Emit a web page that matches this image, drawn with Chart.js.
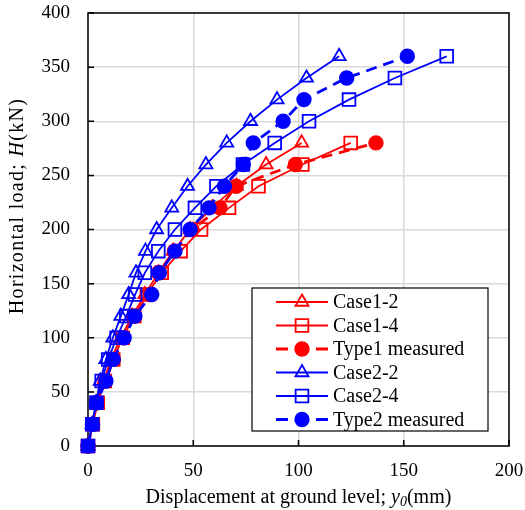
<!DOCTYPE html>
<html>
<head>
<meta charset="utf-8">
<script src="https://cdn.jsdelivr.net/npm/chart.js@4/dist/chart.umd.min.js"></script>
<style>
  html, body { margin: 0; padding: 0; background: #fff; }
</style>
</head>
<body>
<canvas id="loadChart" width="525" height="510"></canvas>
<script>
// load steps (kN)
const loadsType1 = [0, 20, 40, 60, 80, 100, 120, 140, 160, 180, 200, 220, 240, 260, 280];
const loadsType2 = [0, 20, 40, 60, 80, 100, 120, 140, 160, 180, 200, 220, 240, 260, 280, 300, 320, 340, 360];

// displacement at ground level (mm)
const case12Disp = [0, 2.1, 4.1, 7.5, 11, 15.5, 21, 27, 33.5, 40.5, 48.5, 59, 70.5, 84.6, 101.5];
const case14Disp = [0, 2.3, 4.6, 8, 12, 16.5, 22, 28, 35, 44, 53.7, 67, 81, 101.8, 124.8];
const type1Disp  = [0, 2.2, 4.2, 8.3, 12, 16.8, 22, 29.5, 33.5, 41, 49.5, 62.7, 70.4, 98.5, 136.8];
const case22Disp = [0, 2, 3.8, 5.8, 8.5, 11.8, 15.6, 19.3, 22.8, 27.3, 32.6, 39.8, 47.3, 56, 65.9, 77.2, 89.8, 103.8, 119.3];
const case24Disp = [0, 2, 4, 6.5, 9.6, 13.6, 18.2, 22.4, 27, 33.4, 41.3, 50.8, 61, 73.6, 88.7, 105, 124, 145.8, 170.4];
const type2Disp  = [0, 2.1, 4, 8.5, 12, 17.2, 22.3, 30.3, 33.9, 41.3, 48.5, 57.5, 64.8, 73.8, 78.5, 92.7, 102.6, 122.9, 151.7];

const xTickValues = [0, 50, 100, 150, 200];
const yTickValues = [0, 50, 100, 150, 200, 250, 300, 350, 400];

const RED = '#ff0000';
const BLUE = '#0000ff';
const FONT = "'Liberation Serif', 'Times New Roman', serif";

const toPoints = (xs, ys) => xs.map((x, i) => ({ x, y: ys[i] }));

function series(label, xs, ys, color, marker, measured) {
  return {
    label,
    data: toPoints(xs, ys),
    showLine: true,
    borderColor: color,
    borderWidth: measured ? 2.8 : 1.8,
    borderDash: measured ? [11, 7] : [],
    pointStyle: marker,
    pointRadius: marker === 'rect' ? 9 : (marker === 'triangle' ? 7.5 : 6.8),
    pointBorderColor: color,
    pointBorderWidth: 1.8,
    pointBackgroundColor: measured ? color : 'rgba(0,0,0,0)',
    tension: 0,
    clip: false,
    order: color === RED ? 2 : 1
  };
}

const datasets = [
  series('Case1-2', case12Disp, loadsType1, RED, 'triangle', false),
  series('Case1-4', case14Disp, loadsType1, RED, 'rect', false),
  series('Type1 measured', type1Disp, loadsType1, RED, 'circle', true),
  series('Case2-2', case22Disp, loadsType2, BLUE, 'triangle', false),
  series('Case2-4', case24Disp, loadsType2, BLUE, 'rect', false),
  series('Type2 measured', type2Disp, loadsType2, BLUE, 'circle', true)
];

// black frame + short inward tick marks
const frameAndTicks = {
  id: 'frameAndTicks',
  beforeDatasetsDraw(chart) {
    const { ctx, chartArea: a, scales: { x, y } } = chart;
    ctx.save();
    ctx.strokeStyle = '#000';
    ctx.lineWidth = 1.5;
    ctx.strokeRect(a.left, a.top, a.right - a.left, a.bottom - a.top);
    ctx.beginPath();
    xTickValues.forEach(v => {
      const px = x.getPixelForValue(v);
      ctx.moveTo(px, a.bottom);
      ctx.lineTo(px, a.bottom - 6);
    });
    yTickValues.forEach(v => {
      const py = y.getPixelForValue(v);
      ctx.moveTo(a.left, py);
      ctx.lineTo(a.left + 6, py);
    });
    ctx.stroke();
    ctx.restore();
  }
};

// draw a run of text pieces (some italic / subscript) starting at x
function drawRuns(ctx, runs, x, y, size) {
  runs.forEach(r => {
    ctx.font = (r.italic ? 'italic ' : '') + (r.size || size) + 'px ' + FONT;
    ctx.fillText(r.text, x, y + (r.dy || 0));
    x += ctx.measureText(r.text).width;
  });
}
function runsWidth(ctx, runs, size) {
  return runs.reduce((w, r) => {
    ctx.font = (r.italic ? 'italic ' : '') + (r.size || size) + 'px ' + FONT;
    return w + ctx.measureText(r.text).width;
  }, 0);
}

const axisTitles = {
  id: 'axisTitles',
  afterDraw(chart) {
    const ctx = chart.ctx;
    const a = chart.chartArea;
    ctx.save();
    ctx.fillStyle = '#000';
    ctx.textBaseline = 'middle';
    ctx.textAlign = 'left';

    const xRuns = [
      { text: 'Displacement at ground level; ' },
      { text: 'y', italic: true },
      { text: '0', italic: true, size: 14, dy: 4 },
      { text: '(mm)' }
    ];
    const xw = runsWidth(ctx, xRuns, 20);
    drawRuns(ctx, xRuns, (a.left + a.right) / 2 - xw / 2, 498, 20);

    const yRuns = [
      { text: 'Horizontal load; ' },
      { text: 'H', italic: true },
      { text: '(kN)' }
    ];
    if ('letterSpacing' in ctx) ctx.letterSpacing = '1.3px';
    const yw = runsWidth(ctx, yRuns, 20);
    ctx.translate(18, 206);
    ctx.rotate(-Math.PI / 2);
    drawRuns(ctx, yRuns, -yw / 2, 0, 20);
    ctx.restore();
  }
};

// boxed legend inside the plot, line + marker samples
const legendBox = {
  id: 'legendBox',
  afterDatasetsDraw(chart) {
    const ctx = chart.ctx;
    const box = { left: 252, top: 288, width: 236, height: 143 };
    ctx.save();
    ctx.fillStyle = '#fff';
    ctx.fillRect(box.left, box.top, box.width, box.height);
    ctx.strokeStyle = '#000';
    ctx.lineWidth = 1.2;
    ctx.strokeRect(box.left, box.top, box.width, box.height);

    chart.data.datasets.forEach((ds, i) => {
      const cy = box.top + 14 + i * 23.5;
      const x0 = box.left + 24, x1 = box.left + 76, mx = (x0 + x1) / 2;
      ctx.strokeStyle = ds.borderColor;
      ctx.lineWidth = ds.borderWidth;
      ctx.beginPath();
      if (ds.borderDash.length) {
        ctx.moveTo(x0, cy); ctx.lineTo(x0 + 12, cy);
        ctx.moveTo(x1 - 12, cy); ctx.lineTo(x1, cy);
      } else {
        ctx.moveTo(x0, cy); ctx.lineTo(x1, cy);
      }
      ctx.stroke();

      ctx.fillStyle = ds.pointBackgroundColor;
      ctx.strokeStyle = ds.pointBorderColor;
      ctx.lineWidth = ds.pointBorderWidth;
      Chart.helpers.drawPoint(ctx, {
        pointStyle: ds.pointStyle,
        radius: ds.pointRadius,
        rotation: 0,
        borderWidth: ds.pointBorderWidth
      }, mx, cy);

      ctx.fillStyle = '#000';
      ctx.font = '20px ' + FONT;
      ctx.textBaseline = 'middle';
      ctx.textAlign = 'left';
      ctx.fillText(ds.label, x1 + 5, cy + 1);
    });
    ctx.restore();
  }
};

const gridColor = '#d9d9d9';

new Chart(document.getElementById('loadChart').getContext('2d'), {
  type: 'scatter',
  data: { datasets },
  options: {
    responsive: false,
    animation: false,
    events: [],
    layout: { padding: { top: 13, right: 16, left: 0, bottom: 0 } },
    plugins: {
      legend: { display: false },
      tooltip: { enabled: false }
    },
    scales: {
      x: {
        type: 'linear',
        min: 0,
        max: 200,
        afterFit: s => { s.height = 64; s.paddingLeft = 0; s.paddingRight = 0; },
        afterBuildTicks: s => { s.ticks = xTickValues.map(v => ({ value: v })); },
        grid: { color: gridColor, lineWidth: 1.5, drawTicks: false },
        border: { display: false },
        ticks: { color: '#000', padding: 14, font: { family: FONT, size: 19 } }
      },
      y: {
        type: 'linear',
        min: 0,
        max: 400,
        afterFit: s => { s.width = 88; s.paddingTop = 0; s.paddingBottom = 0; },
        afterBuildTicks: s => { s.ticks = yTickValues.map(v => ({ value: v })); },
        grid: { color: gridColor, lineWidth: 1.5, drawTicks: false },
        border: { display: false },
        ticks: { color: '#000', padding: 18, font: { family: FONT, size: 19 } }
      }
    }
  },
  plugins: [frameAndTicks, legendBox, axisTitles]
});
</script>
</body>
</html>
